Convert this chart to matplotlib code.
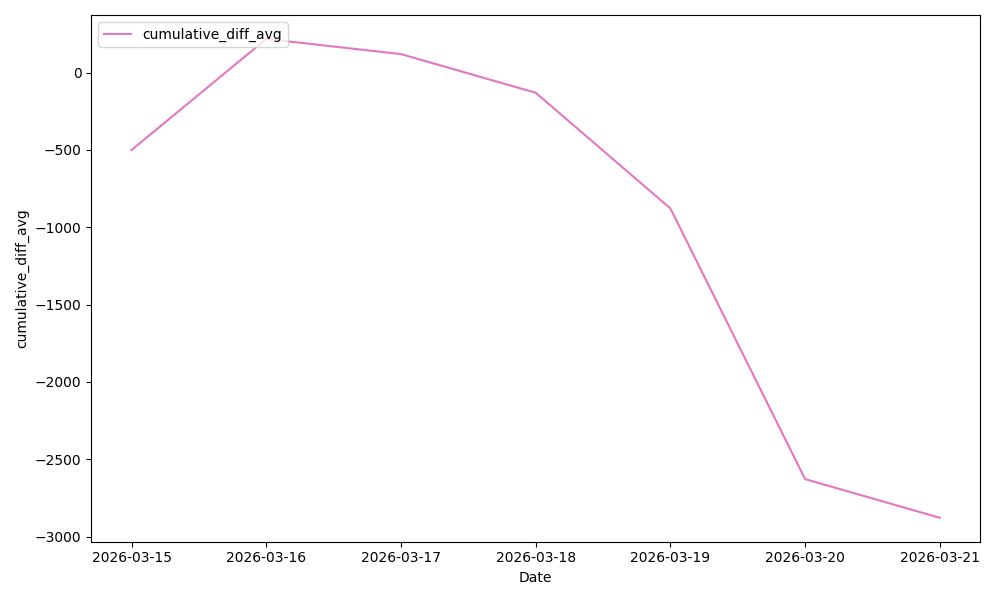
import pandas as pd
import matplotlib
matplotlib.use("Agg")
import matplotlib.pyplot as plt

dates = ["2026-03-15", "2026-03-16", "2026-03-17", "2026-03-18",
         "2026-03-19", "2026-03-20", "2026-03-21"]
cumulative_diff_avg = [-500, 218, 120, -130, -878, -2628, -2878]

x = pd.to_datetime(dates)

fig, ax = plt.subplots(figsize=(10, 6), dpi=100)
ax.plot(x, cumulative_diff_avg, color="tab:pink", label="cumulative_diff_avg")
ax.set_xticks(x)
ax.set_xticklabels(dates)
ax.set_xlabel("Date")
ax.set_ylabel("cumulative_diff_avg")
ax.legend(loc="upper left")
fig.tight_layout()
fig.savefig("out.png")
